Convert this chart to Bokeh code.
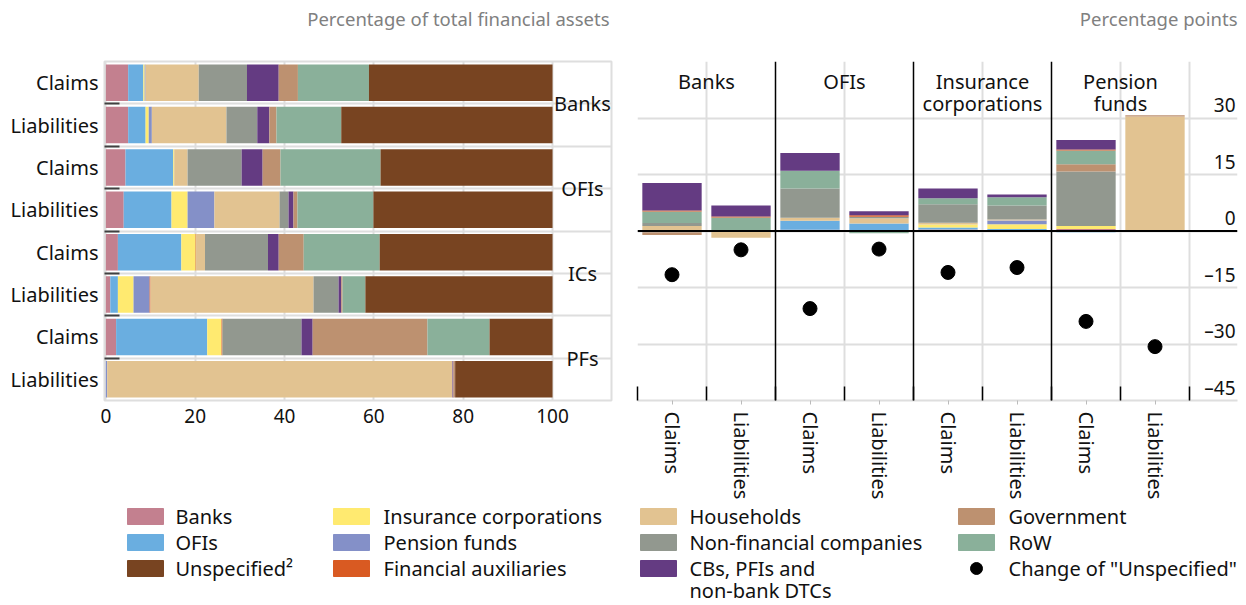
import numpy as np
from bokeh.plotting import figure
from bokeh.layouts import row, column
from bokeh.models import ColumnDataSource, FixedTicker, Range1d, Span
from bokeh.core.properties import value
from bokeh.embed import file_html
from bokeh.resources import INLINE

FONT = "Noto Sans"
TXT = "#111111"
GRID = "#dedede"
WSIZE = "20px"   # word labels
NSIZE = "19px"   # numeric labels

# ---------------- data ----------------
row_labels = ["Claims", "Liabilities"] * 4
group_labels = ["Banks", "OFIs", "ICs", "PFs"]
panel_titles = ["Percentage of total financial assets", "Percentage points"]

# Left panel: percentage of total financial assets (rows top to bottom)
left_banks  = [5.0, 5.0, 4.4, 4.0, 2.7, 1.0, 2.3, 0.0]
left_ofis   = [3.4, 3.9, 10.7, 10.7, 14.2, 1.7, 20.4, 0.0]
left_ic     = [0.3, 0.7, 0.2, 3.6, 3.2, 3.5, 3.2, 0.0]
left_pf     = [0.2, 0.7, 0.0, 6.0, 0.0, 3.6, 0.0, 0.3]
left_finaux = [0.0, 0.0, 0.0, 0.0, 0.1, 0.2, 0.2, 0.0]
left_hh     = [11.9, 16.7, 3.0, 14.6, 2.0, 36.5, 0.0, 77.3]
left_nfc    = [10.8, 6.9, 12.1, 2.0, 14.1, 5.6, 17.7, 0.0]
left_cbs    = [7.1, 2.7, 4.7, 1.1, 2.4, 0.6, 2.5, 0.2]
left_gov    = [4.3, 1.6, 4.0, 0.9, 5.6, 0.3, 25.7, 0.4]
left_row    = [15.9, 14.5, 22.4, 17.0, 17.0, 5.1, 13.9, 0.0]
left_unsp   = [41.1, 47.3, 38.5, 40.1, 38.7, 41.9, 14.1, 21.8]

# Right panel: percentage points (bars left to right)
group_titles = [["Banks"], ["OFIs"], ["Insurance", "corporations"], ["Pension", "funds"]]
bar_labels = ["Claims", "Liabilities"] * 4
chg_banks  = [0.0, -0.2, 0.3, 0.0, 0.4, 0.0, 0.5, 0.0]
chg_ofis   = [-0.35, 0.2, 2.4, 2.0, 0.5, 0.5, -0.3, 0.0]
chg_ic     = [0.0, 0.0, 0.0, 0.0, 0.8, 1.3, 0.8, 0.0]
chg_pf     = [0.0, 0.0, 0.0, 0.0, 0.0, 1.0, 0.0, 0.0]
chg_hh     = [1.3, -1.6, 0.8, 1.4, 0.5, 0.26, 0.0, 30.4]
chg_nfc    = [0.8, 0.0, 7.8, 0.4, 4.9, 3.7, 14.5, 0.0]
chg_gov    = [-0.7, 0.0, 0.0, 0.0, 0.0, 0.0, 1.9, 0.35]
chg_row    = [3.1, 3.4, 4.7, -0.6, 1.6, 2.2, 3.7, -0.2]
chg_finaux = [0.26, 0.26, 0.0, 0.35, 0.0, 0.0, 0.26, 0.0]
chg_cbs    = [7.3, 2.9, 4.7, 1.1, 2.6, 0.7, 2.5, 0.0]
chg_unspecified = [-11.6, -5.0, -20.6, -4.8, -11.0, -9.7, -24.0, -30.7]

y_ticks_right = [-45, -30, -15, 0, 15, 30]
y_tick_labels_right = ["–45", "–30", "–15", "0", "15", "30"]

colors = {
    "Banks": "#c3808f",
    "OFIs": "#6aaee0",
    "Unspecified": "#784421",
    "Insurance corporations": "#ffea70",
    "Pension funds": "#8490c8",
    "Financial auxiliaries": "#d95a22",
    "Households": "#e2c391",
    "Non-financial companies": "#92988f",
    "CBs": "#643b82",
    "Government": "#bd9170",
    "RoW": "#8ab09a",
}

# ---------------- header (panel titles) ----------------
HEAD_H = 40
head = figure(width=1244, height=HEAD_H, x_range=Range1d(0, 1244), y_range=Range1d(HEAD_H, 0),
              output_backend="svg", toolbar_location=None, tools="", min_border=0,
              x_axis_location=None, y_axis_location=None, outline_line_color=None)
head.grid.visible = False
head.text(x=[609, 1237], y=[18, 18], text=panel_titles, text_align="right", text_baseline="middle",
          text_font=value(FONT), text_font_size="18.5px", text_color="#808080")

# ---------------- left panel ----------------
n = len(row_labels)
ypos = [n - i - 0.5 for i in range(n)]
left_keys = ["banks", "ofis", "ic", "pf", "finaux", "hh", "nfc", "cbs", "gov", "row", "unsp"]
left_cols = [colors["Banks"], colors["OFIs"], colors["Insurance corporations"], colors["Pension funds"],
             colors["Financial auxiliaries"], colors["Households"], colors["Non-financial companies"],
             colors["CBs"], colors["Government"], colors["RoW"], colors["Unspecified"]]
src = ColumnDataSource(dict(y=ypos, banks=left_banks, ofis=left_ofis, ic=left_ic, pf=left_pf,
                            finaux=left_finaux, hh=left_hh, nfc=left_nfc, cbs=left_cbs,
                            gov=left_gov, row=left_row, unsp=left_unsp))

TOP_H = 462
left = figure(width=625, height=TOP_H, x_range=Range1d(-0.3, 113.2), y_range=Range1d(0, 8),
              output_backend="svg", toolbar_location=None, tools="",
              min_border_left=104, min_border_right=14, min_border_top=21, min_border_bottom=97)
left.hbar_stack(left_keys, y="y", height=0.86, color=left_cols, line_color=None, source=src)

left.xaxis.ticker = FixedTicker(ticks=[0, 20, 40, 60, 80, 100])
left.yaxis.ticker = FixedTicker(ticks=ypos, minor_ticks=[1, 2, 3, 4, 5, 6, 7])
left.yaxis.major_label_overrides = {y: lab for y, lab in zip(ypos, row_labels)}
for ax in (left.xaxis, left.yaxis):
    ax.axis_line_color = None
    ax.major_tick_in = 0
    ax.major_tick_out = 0
    ax.major_label_text_font = FONT
    ax.major_label_text_color = TXT
left.xaxis.major_label_text_font_size = NSIZE
left.yaxis.major_label_text_font_size = WSIZE
left.xaxis.minor_tick_line_color = None
left.xaxis.major_label_standoff = 8
left.yaxis.major_label_standoff = 6
left.yaxis.minor_tick_in = 15
left.yaxis.minor_tick_out = 0
left.yaxis.minor_tick_line_color = "#404040"
left.yaxis.minor_tick_line_width = 2

left.xgrid.ticker = FixedTicker(ticks=[0, 20, 40, 60, 80, 100])
left.ygrid.ticker = FixedTicker(ticks=[1, 2, 3, 4, 5, 6, 7])
left.grid.grid_line_color = GRID
left.grid.grid_line_width = 2
left.outline_line_color = GRID
left.outline_line_width = 2

left.text(x=[106.7] * 4, y=[7, 5, 3, 1], text=group_labels, text_align="center",
          text_baseline="middle", text_font=value(FONT), text_font_size=WSIZE, text_color=TXT)

# ---------------- right panel ----------------
nb = len(bar_labels)
xpos = [i + 0.5 for i in range(nb)]
right = figure(width=619, height=TOP_H, x_range=Range1d(0, 600 / 69), y_range=Range1d(-45, 45),
               output_backend="svg", toolbar_location=None, tools="", y_axis_location=None,
               min_border_left=12, min_border_right=7, min_border_top=21, min_border_bottom=97)

right.xgrid.ticker = FixedTicker(ticks=[0, 1, 3, 5, 7, 8])
right.ygrid.ticker = FixedTicker(ticks=[-45, -30, -15, 0, 15, 30, 45])
right.grid.grid_line_color = GRID
right.grid.grid_line_width = 2
right.outline_line_color = None

right_series = [
    (chg_banks, colors["Banks"]), (chg_ofis, colors["OFIs"]),
    (chg_ic, colors["Insurance corporations"]), (chg_pf, colors["Pension funds"]),
    (chg_hh, colors["Households"]), (chg_nfc, colors["Non-financial companies"]),
    (chg_gov, colors["Government"]), (chg_row, colors["RoW"]),
    (chg_finaux, colors["Financial auxiliaries"]), (chg_cbs, colors["CBs"]),
]
pos_base = np.zeros(nb)
neg_base = np.zeros(nb)
for vals, col in right_series:
    v = np.array(vals, dtype=float)
    bottom = np.where(v >= 0, pos_base, neg_base)
    top = bottom + v
    pos_base = np.where(v >= 0, top, pos_base)
    neg_base = np.where(v < 0, top, neg_base)
    right.vbar(x=xpos, width=0.86, bottom=bottom, top=top, color=col, line_color=None)

for loc in (2, 4, 6):
    right.add_layout(Span(location=loc, dimension="height", line_color="black", line_width=1.5))
right.add_layout(Span(location=0, dimension="width", line_color="black", line_width=2))

right.scatter(x=xpos, y=chg_unspecified, size=14, color="black")

# group headers
for gi, lines in enumerate(group_titles):
    for li, line in enumerate(lines):
        right.text(x=[2 * gi + 1], y=[39.6], y_offset=22 * li, text=[line], text_align="center",
                   text_baseline="middle", text_font=value(FONT), text_font_size=WSIZE, text_color=TXT)

right.text(x=[8.667] * len(y_ticks_right), y=y_ticks_right, text=y_tick_labels_right,
           text_align="right", text_baseline="middle", y_offset=-13,
           text_font=value(FONT), text_font_size=NSIZE, text_color=TXT)

right.xaxis.ticker = FixedTicker(ticks=xpos, minor_ticks=list(range(nb + 1)))
right.xaxis.major_label_overrides = {x: lab for x, lab in zip(xpos, bar_labels)}
right.xaxis.major_label_orientation = "vertical"
right.xaxis.major_label_text_font = FONT
right.xaxis.major_label_text_font_size = WSIZE
right.xaxis.major_label_text_color = TXT
right.xaxis.major_label_standoff = 7
right.xaxis.axis_line_color = GRID
right.xaxis.axis_line_width = 2
right.xaxis.major_tick_in = 0
right.xaxis.major_tick_out = 4
right.xaxis.major_tick_line_color = "#bbbbbb"
right.xaxis.minor_tick_in = 14
right.xaxis.minor_tick_out = 0
right.xaxis.minor_tick_line_color = "black"
right.xaxis.minor_tick_line_width = 1.5

# ---------------- legend ----------------
LEG_H = 102
leg = figure(width=1244, height=LEG_H, x_range=Range1d(0, 1244), y_range=Range1d(LEG_H, 0),
             output_backend="svg", toolbar_location=None, tools="", min_border=0,
             x_axis_location=None, y_axis_location=None, outline_line_color=None)
leg.grid.visible = False

legend_items = [
    ("Banks", colors["Banks"], 0, 0), ("OFIs", colors["OFIs"], 0, 1), ("Unspecified²", colors["Unspecified"], 0, 2),
    ("Insurance corporations", colors["Insurance corporations"], 1, 0), ("Pension funds", colors["Pension funds"], 1, 1),
    ("Financial auxiliaries", colors["Financial auxiliaries"], 1, 2),
    ("Households", colors["Households"], 2, 0), ("Non-financial companies", colors["Non-financial companies"], 2, 1),
    ("CBs, PFIs and", colors["CBs"], 2, 2),
    ("Government", colors["Government"], 3, 0), ("RoW", colors["RoW"], 3, 1),
]
col_sw = [127, 333, 640, 958]
col_tx = [175, 383, 689, 1008]
row_y = [14, 40, 66, 88]
leg.rect(x=[col_sw[c] + 18 for _, _, c, _ in legend_items], y=[row_y[r] for _, _, _, r in legend_items],
         width=36, height=16, color=[col for _, col, _, _ in legend_items])
leg.text(x=[col_tx[c] for _, _, c, _ in legend_items], y=[row_y[r] for _, _, _, r in legend_items],
         text=[lab for lab, _, _, _ in legend_items], text_baseline="middle",
         text_font=value(FONT), text_font_size=WSIZE, text_color=TXT)
leg.text(x=[col_tx[2]], y=[row_y[3]], text=["non-bank DTCs"], text_baseline="middle",
         text_font=value(FONT), text_font_size=WSIZE, text_color=TXT)
leg.scatter(x=[col_sw[3] + 18], y=[row_y[2]], size=12, color="black")
leg.text(x=[col_tx[3]], y=[row_y[2]], text=['Change of "Unspecified"'], text_baseline="middle",
         text_font=value(FONT), text_font_size=WSIZE, text_color=TXT)

layout = column(head, row(left, right), leg)
open("out.html", "w").write(file_html(layout, INLINE))
